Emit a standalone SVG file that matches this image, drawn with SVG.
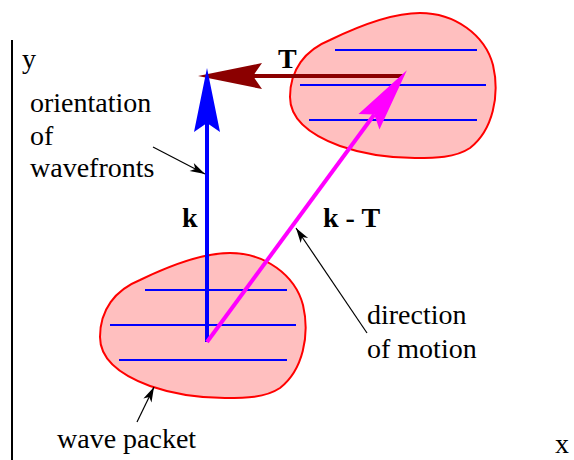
<svg xmlns="http://www.w3.org/2000/svg" xmlns:xlink="http://www.w3.org/1999/xlink" width="574" height="460" viewBox="0 0 574 460">
<style>
.lbl{font-family:"Liberation Serif","Times New Roman",serif;font-size:28px;fill:#000}
.bold{font-family:"Liberation Serif","Times New Roman",serif;font-size:28px;font-weight:bold;fill:#000}
.blob{fill:#ffbfbf;stroke:#ff0000;stroke-width:2}
.wave{stroke:#0000ff;stroke-width:2;fill:none}
.leader{stroke:#000;stroke-width:1.2;fill:none;marker-end:url(#small)}
</style>
<defs>
<marker id="headBlue" markerUnits="userSpaceOnUse" orient="auto" refX="0" refY="0" markerWidth="70" markerHeight="30" overflow="visible">
<path d="M55,0 L-9,-13 L0,0 L-9,13 Z" fill="#0000ff"/>
</marker>
<marker id="headRed" markerUnits="userSpaceOnUse" orient="auto" refX="0" refY="0" markerWidth="70" markerHeight="30" overflow="visible">
<path d="M55,0 L-9,-13 L0,0 L-9,13 Z" fill="#8b0000"/>
</marker>
<marker id="headMag" markerUnits="userSpaceOnUse" orient="auto" refX="0" refY="0" markerWidth="70" markerHeight="30" overflow="visible">
<path d="M55,0 L-9,-13 L0,0 L-9,13 Z" fill="#ff00ff"/>
</marker>
<marker id="small" markerUnits="userSpaceOnUse" orient="auto" refX="0" refY="0" markerWidth="20" markerHeight="10" overflow="visible">
<path d="M0,0 L-15,-4.5 L-11,0 L-15,4.5 Z" fill="#000"/>
</marker>
<g id="packetShape">
<path class="blob" d="M100,337 C100,310 115,290 140,280 C175,263 205,253 230,253 C265,253 295,275 303,305 C310,335 303,370 280,388 C265,398 245,398 225,398 C195,398 170,393 150,386 C120,375 100,360 100,337 Z"/>
<line class="wave" x1="145" y1="290" x2="287" y2="290"/>
<line class="wave" x1="110" y1="325" x2="296" y2="325"/>
<line class="wave" x1="119" y1="360" x2="287" y2="360"/>
</g>
</defs>

<g id="axes">
<line x1="12" y1="40" x2="12" y2="460" stroke="#000" stroke-width="2"/>
<text class="lbl" x="22" y="68">y</text>
<text class="lbl" x="555" y="453">x</text>
</g>

<g id="packet-start">
<use xlink:href="#packetShape"/>
</g>
<g id="packet-end">
<use xlink:href="#packetShape" transform="translate(190,-240)"/>
</g>

<g id="connectors">
<line x1="403" y1="76" x2="253" y2="76" stroke="#8b0000" stroke-width="4" marker-end="url(#headRed)"/>
<line x1="207" y1="342" x2="207" y2="123" stroke="#0000ff" stroke-width="4" marker-end="url(#headBlue)"/>
<line x1="207" y1="342" x2="374.3" y2="114.5" stroke="#ff00ff" stroke-width="4" marker-end="url(#headMag)"/>
<line class="leader" x1="153" y1="147" x2="205" y2="174"/>
<line class="leader" x1="367" y1="333" x2="296" y2="228"/>
<line class="leader" x1="137" y1="422" x2="154" y2="387"/>
</g>

<g id="labels">
<text class="bold" x="278" y="68">T</text>
<text class="bold" x="182" y="227">k</text>
<text class="bold" x="323" y="227">k - T</text>
<text class="lbl" x="30" y="112">orientation</text>
<text class="lbl" x="30" y="145">of</text>
<text class="lbl" x="30" y="177">wavefronts</text>
<text class="lbl" x="367" y="324">direction</text>
<text class="lbl" x="367" y="358">of motion</text>
<text class="lbl" x="57" y="448">wave packet</text>
</g>
</svg>
